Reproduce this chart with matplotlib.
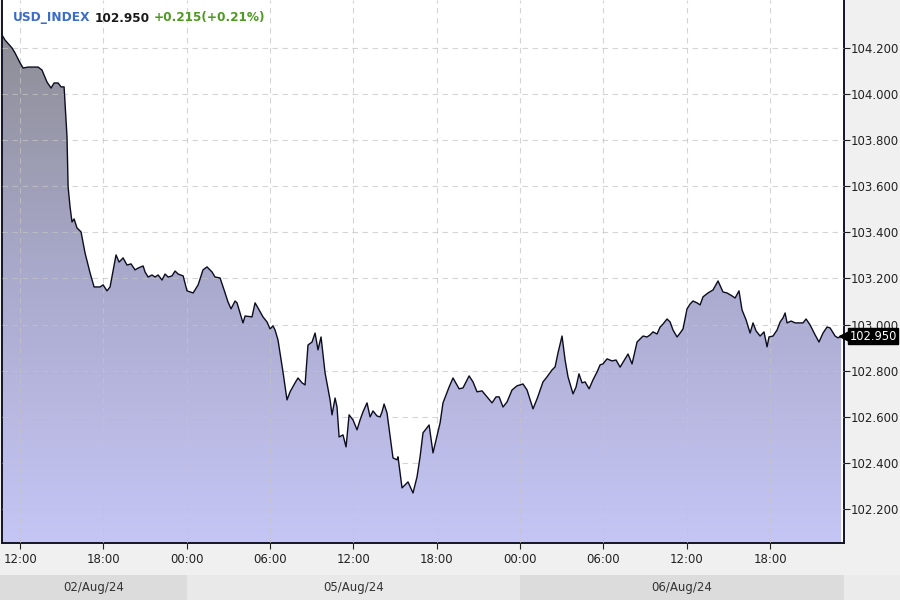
import numpy as np
import matplotlib.pyplot as plt
from matplotlib.patches import Rectangle, Polygon
from matplotlib.colors import LinearSegmentedColormap
from matplotlib.transforms import blended_transform_factory

# trading hours counted from 02/Aug 12:00 (weekend skipped: 05/Aug 00:00 = hour 12)
hours = [-1.30, -1.08, -0.58, -0.36, 0.00, 0.22, 0.58, 1.30, 1.58, 1.94, 2.23, 2.45, 2.74, 2.95,
         3.17, 3.24, 3.38, 3.46, 3.60, 3.74, 3.89, 4.10, 4.39, 4.68, 5.04, 5.33, 5.76, 5.98, 6.26,
         6.48, 6.91, 7.13, 7.42, 7.70, 7.99, 8.28, 8.50, 8.86, 9.00, 9.22, 9.50, 9.72, 9.94, 10.22,
         10.44, 10.66, 10.94, 11.16, 11.38, 11.74, 12.02, 12.46, 12.82, 13.17, 13.46, 13.82, 14.04,
         14.40, 14.69, 14.97, 15.19, 15.48, 15.62, 15.84, 16.05, 16.20, 16.70, 16.92, 17.13, 17.49,
         17.78, 18.00, 18.21, 18.36, 18.57, 18.93, 19.22, 19.44, 19.80, 20.01, 20.30, 20.52, 20.73,
         21.02, 21.24, 21.45, 21.67, 21.96, 22.32, 22.46, 22.68, 22.82, 22.97, 23.25, 23.47, 23.69,
         23.97, 24.26, 24.48, 24.69, 24.98, 25.20, 25.41, 25.70, 25.92, 26.06, 26.21, 26.42, 26.85,
         27.14, 27.21, 27.50, 27.72, 27.93, 28.29, 28.58, 28.80, 29.01, 29.45, 29.73, 29.95, 30.24,
         30.45, 30.89, 31.17, 31.61, 31.89, 32.33, 32.61, 32.90, 33.26, 33.62, 33.98, 34.27, 34.49,
         34.77, 35.06, 35.42, 35.78, 36.21, 36.50, 36.93, 37.22, 37.65, 37.94, 38.30, 38.52, 38.73,
         39.02, 39.24, 39.45, 39.81, 40.03, 40.24, 40.46, 40.68, 40.97, 41.25, 41.54, 41.76, 41.97,
         42.26, 42.62, 42.91, 43.20, 43.77, 44.06, 44.42, 44.64, 44.85, 45.14, 45.36, 45.57, 45.86,
         46.08, 46.29, 46.58, 46.80, 47.01, 47.30, 47.52, 47.73, 48.02, 48.24, 48.45, 48.74, 48.96,
         49.17, 49.53, 49.89, 50.25, 50.61, 50.90, 51.26, 51.48, 51.76, 51.98, 52.27, 52.56, 52.77,
         52.99, 53.28, 53.56, 53.78, 53.92, 54.21, 54.50, 54.72, 54.93, 55.08, 55.22, 55.51, 55.80,
         56.37, 56.59, 56.88, 57.24, 57.52, 57.81, 58.10, 58.32, 58.68, 58.89, 59.11]
prices = [104.256, 104.234, 104.200, 104.178, 104.135, 104.113, 104.117, 104.117, 104.104, 104.052,
          104.026, 104.048, 104.048, 104.031, 104.031, 103.961, 103.814, 103.597, 103.510, 103.445,
          103.458, 103.419, 103.402, 103.310, 103.224, 103.163, 103.163, 103.172, 103.146, 103.163,
          103.302, 103.271, 103.289, 103.258, 103.263, 103.237, 103.245, 103.254, 103.228, 103.206,
          103.215, 103.206, 103.215, 103.193, 103.219, 103.206, 103.211, 103.232, 103.219, 103.211,
          103.146, 103.137, 103.172, 103.237, 103.250, 103.228, 103.206, 103.202, 103.150, 103.098,
          103.068, 103.102, 103.094, 103.050, 103.007, 103.037, 103.033, 103.094, 103.072, 103.033,
          103.011, 102.981, 102.994, 102.976, 102.933, 102.794, 102.673, 102.708, 102.747, 102.768,
          102.747, 102.738, 102.911, 102.924, 102.963, 102.890, 102.946, 102.790, 102.673, 102.608,
          102.681, 102.642, 102.512, 102.521, 102.469, 102.608, 102.586, 102.543, 102.586, 102.621,
          102.660, 102.599, 102.625, 102.603, 102.599, 102.621, 102.655, 102.616, 102.421, 102.413,
          102.426, 102.291, 102.304, 102.317, 102.269, 102.339, 102.426, 102.530, 102.564, 102.443,
          102.499, 102.573, 102.660, 102.729, 102.768, 102.721, 102.725, 102.777, 102.751, 102.708,
          102.712, 102.686, 102.660, 102.686, 102.686, 102.642, 102.664, 102.716, 102.734, 102.742,
          102.716, 102.634, 102.677, 102.751, 102.773, 102.803, 102.816, 102.877, 102.950, 102.846,
          102.773, 102.699, 102.729, 102.786, 102.747, 102.751, 102.721, 102.760, 102.794, 102.825,
          102.829, 102.851, 102.842, 102.846, 102.815, 102.872, 102.829, 102.924, 102.937, 102.950,
          102.946, 102.955, 102.968, 102.959, 102.989, 103.002, 103.024, 103.011, 102.976, 102.946,
          102.963, 102.981, 103.068, 103.089, 103.102, 103.094, 103.085, 103.120, 103.137, 103.150,
          103.189, 103.141, 103.137, 103.124, 103.115, 103.146, 103.063, 103.020, 102.963, 103.007,
          102.972, 102.950, 102.968, 102.903, 102.946, 102.950, 102.976, 103.011, 103.029, 103.050,
          103.007, 103.015, 103.007, 103.007, 103.024, 102.998, 102.955, 102.924, 102.963, 102.989,
          102.985, 102.950, 102.942, 102.950]

tick_hours = [0, 6, 12, 18, 24, 30, 36, 42, 48, 54]
tick_labels = ['12:00', '18:00', '00:00', '06:00', '12:00', '18:00', '00:00', '06:00', '12:00', '18:00']
y_ticks = [102.2, 102.4, 102.6, 102.8, 103.0, 103.2, 103.4, 103.6, 103.8, 104.0, 104.2]
day_labels = ['02/Aug/24', '05/Aug/24', '06/Aug/24']
day_starts = [None, 12, 36]
symbol = 'USD_INDEX'
last_price = 102.950
change = 0.215
change_pct = 0.21

xlim = (-1.30, 59.32)
ylim = (102.052, 104.408)

fig = plt.figure(figsize=(9, 6), dpi=100, facecolor='#f0f0f0')
ax = fig.add_axes([2 / 900, 57 / 600, 842 / 900, 543 / 600])
ax.set_facecolor('white')
ax.set_xlim(*xlim)
ax.set_ylim(*ylim)

# gradient area under the line
cmap = LinearSegmentedColormap.from_list('area', ['#c6c6f6', '#a9a9cc', '#8a8a8e'])
grad = np.linspace(0, 1, 256).reshape(-1, 1)
im = ax.imshow(grad, extent=[xlim[0], xlim[1], ylim[0], ylim[1]], origin='lower',
               aspect='auto', cmap=cmap, zorder=1)
verts = list(zip(hours, prices)) + [(hours[-1], ylim[0]), (hours[0], ylim[0])]
poly = Polygon(verts, closed=True, fc='none', ec='none')
ax.add_patch(poly)
im.set_clip_path(poly)
ax.plot(hours, prices, color='#0d0d20', lw=1.0, zorder=3)

# grid
ax.set_xticks(tick_hours)
ax.set_xticklabels(tick_labels)
ax.set_yticks(y_ticks)
ax.set_yticklabels([f'{v:.3f}' for v in y_ticks])
ax.grid(True, color='#c4c4c4', ls=(0, (5, 4)), lw=0.8, alpha=0.7, zorder=2)
ax.set_axisbelow(False)

ax.yaxis.tick_right()
ax.tick_params(axis='y', direction='out', length=4, width=0.8, color='#222222',
               labelsize=8.5, labelcolor='#222222', pad=1)
ax.tick_params(axis='x', direction='out', length=4, width=0.8, color='#222222',
               labelsize=8.5, labelcolor='#222222', pad=3)
for side in ['left', 'right', 'bottom']:
    ax.spines[side].set_color('#141428')
    ax.spines[side].set_linewidth(1.4)
ax.spines['top'].set_visible(False)

# last price marker: arrow head plus black box
mark_tr = blended_transform_factory(ax.transAxes, ax.transData)
ax.plot([1.0], [last_price], marker='<', ms=7, color='black', transform=mark_tr,
        clip_on=False, zorder=9)
ax.annotate(f'{last_price:.3f}', xy=(1.0, last_price), xycoords=mark_tr,
            xytext=(4, 0), textcoords='offset points', ha='left', va='center',
            color='white', fontsize=8.3, zorder=10, annotation_clip=False,
            bbox=dict(boxstyle='square,pad=0.12', fc='black', ec='black'))

# date bar under the time axis
fig.canvas.draw()
to_px = ax.transData.transform
edges = [0] + [to_px((h, 0))[0] for h in day_starts[1:]] + [to_px((xlim[1], 0))[0]]
band_colors = ['#dcdcdc', '#e9e9e9', '#dcdcdc']
for i, lab in enumerate(day_labels):
    x0, x1 = edges[i] / 900, edges[i + 1] / 900
    fig.add_artist(Rectangle((x0, 0), x1 - x0, 25 / 600, transform=fig.transFigure,
                             fc=band_colors[i], ec='none', zorder=0))
    fig.text((x0 + x1) / 2, 12 / 600, lab, ha='center', va='center',
             fontsize=8.5, color='#333333')
fig.add_artist(Rectangle((edges[-1] / 900, 0), 1 - edges[-1] / 900, 25 / 600,
                         transform=fig.transFigure, fc='#ebebeb', ec='none', zorder=0))

# header: symbol, price, change
renderer = fig.canvas.get_renderer()
parts = [(symbol, '#3b6cc6'), (f'{last_price:.3f}', '#1a1a1a'),
         (f'+{change:.3f}(+{change_pct:.2f}%)', '#4e9a22')]
x = 13
for s, c in parts:
    t = fig.text(x / 900, 1 - 18 / 600, s, color=c, fontsize=8.7, fontweight='bold',
                 ha='left', va='center', zorder=20)
    bb = t.get_window_extent(renderer=renderer)
    x = bb.x1 + 4

fig.savefig('out.png', dpi=100, facecolor=fig.get_facecolor())
